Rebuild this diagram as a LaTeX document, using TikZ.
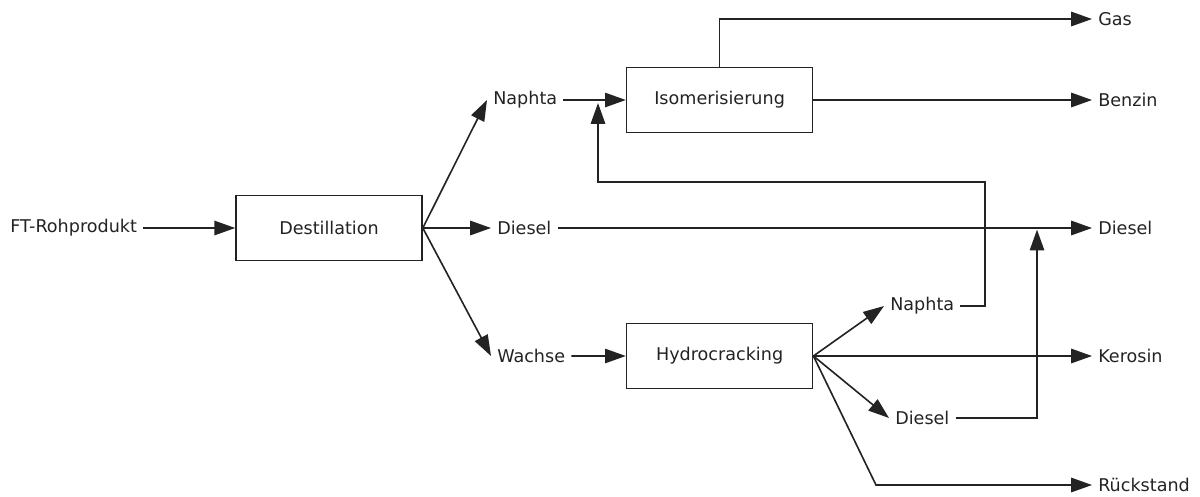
\documentclass[tikz,border=0pt]{standalone}
\usepackage{fontspec}
\setmainfont{DejaVu Sans}
\usepackage{tikz}
\usetikzlibrary{positioning, arrows.meta, calc}
\definecolor{linegray}{RGB}{35,35,35}
\tikzstyle{arrow} = [line width=1.15pt, draw=linegray, -{Triangle[length=0.52cm,width=0.36cm]}]
\tikzstyle{line} = [line width=1.15pt, draw=linegray]
\tikzstyle{process} = [rectangle, minimum width=4.65cm, minimum height=1.625cm, text centered, draw=linegray, line width=1.15pt, fill=white, text=linegray]
\tikzstyle{stream} = [inner sep=0.15cm, anchor=west, text=linegray]

\begin{document}
\begin{tikzpicture}[node distance=6.4cm, font=\fontsize{12.5}{15}\selectfont]
        \useasboundingbox (0,0) rectangle (30,-12.4);

        \node (dest) [process] at (8.225,-5.7) {Destillation};
        \node (isom) [process] at (17.99,-2.5) {Isomerisierung};
        \node (hydro) [process, below of=isom] {Hydrocracking};

        \node (feed) [stream] at (0.1,-5.7) {FT-Rohprodukt};
        \node (naphta1) [stream] at (12.175,-2.5) {Naphta};
        \node (diesel1) [stream] at (12.275,-5.7) {Diesel};
        \node (wachse) [stream] at (12.275,-8.9) {Wachse};
        \node (naphta2) [stream] at (22.1,-7.65) {Naphta};
        \node (diesel2) [stream] at (22.225,-10.45) {Diesel};

        \node (gas) [stream] at (27.3,-0.475) {Gas};
        \node (benzin) [stream] at (27.3,-2.5) {Benzin};
        \node (diesel3) [stream] at (27.3,-5.7) {Diesel};
        \node (kerosin) [stream] at (27.3,-8.9) {Kerosin};
        \node (rueck) [stream] at (27.3,-12.125) {Rückstand};

        \coordinate (loop) at (24.625,-4.55);
        \coordinate (merge1) at (14.95,-2.575);
        \coordinate (merge2) at (25.925,-5.74);
        \coordinate (bend) at (21.9,-12.125);

        \draw [arrow] (feed) -- (dest);
        \draw [arrow] (dest.east) -- (naphta1.west);
        \draw [arrow] (dest.east) -- (diesel1.west);
        \draw [arrow] (dest.east) -- (wachse.west);
        \draw [arrow] (naphta1) -- (isom);
        \draw [arrow] (wachse) -- (hydro);
        \draw [arrow] (diesel1) -- (diesel3);
        \draw [arrow] (isom.north) |- (gas.west);
        \draw [arrow] (isom) -- (benzin);
        \draw [arrow] (naphta2.east) -| (loop) -| (merge1);
        \draw [arrow] (hydro.east) -- (naphta2.west);
        \draw [arrow] (hydro.east) -- (kerosin.west);
        \draw [arrow] (hydro.east) -- (diesel2.west);
        \draw [arrow] (hydro.east) -- (bend) -- (rueck.west);
        \draw [arrow] (diesel2.east) -| (merge2);

\end{tikzpicture}
\end{document}
